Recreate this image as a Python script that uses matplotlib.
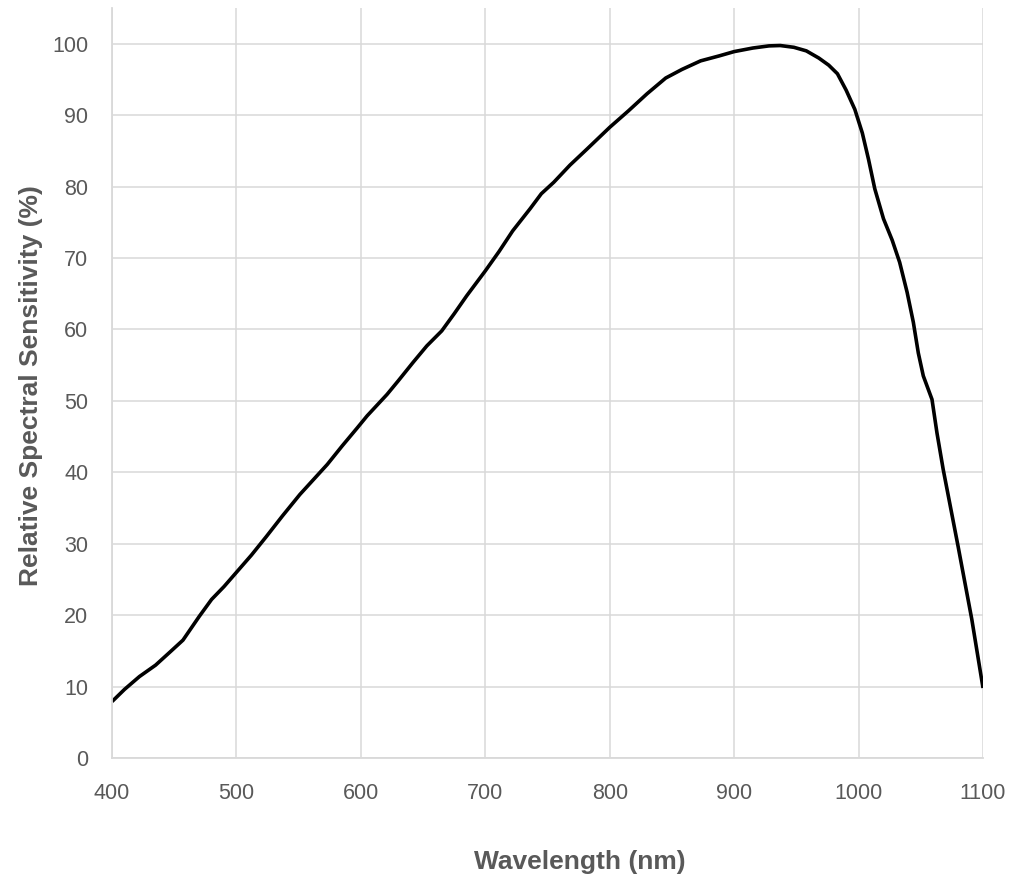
import numpy as np
import matplotlib
matplotlib.use('Agg')
from matplotlib import pyplot as plt

# wavelength (nm) and relative sensitivity (%)
wavelength = [400, 410, 422, 435, 447, 457, 470, 480, 490, 500, 512, 524, 537,
              551, 562, 573, 585, 597, 605, 613, 621, 630, 642, 653, 665, 675,
              685, 700, 711, 722, 736, 745, 755, 768, 782, 800, 815, 830, 845,
              858, 873, 888, 900, 915, 928, 937, 948, 958, 968, 976, 983, 990,
              997, 1003, 1008, 1013, 1020, 1027, 1033, 1039, 1044, 1048, 1052,
              1059, 1063, 1068, 1080, 1091, 1100]
sensitivity = [7.9, 9.6, 11.4, 13.0, 14.9, 16.5, 19.8, 22.2, 24.0, 26.0, 28.4,
               31.0, 33.9, 36.9, 39.0, 41.1, 43.7, 46.2, 47.9, 49.4, 50.9, 52.8,
               55.4, 57.7, 59.8, 62.2, 64.7, 68.2, 70.9, 73.8, 76.9, 79.0, 80.6,
               83.0, 85.3, 88.3, 90.6, 93.0, 95.2, 96.4, 97.6, 98.3, 98.9, 99.4,
               99.7, 99.75, 99.5, 99.0, 98.0, 97.0, 95.8, 93.5, 90.8, 87.5, 83.8,
               79.7, 75.5, 72.5, 69.4, 65.2, 61.0, 56.7, 53.5, 50.2, 45.5, 40.4,
               29.6, 19.4, 9.8]

xticks = [400, 500, 600, 700, 800, 900, 1000, 1100]
yticks = [0, 10, 20, 30, 40, 50, 60, 70, 80, 90, 100]

plt.rcParams['font.family'] = ['Liberation Sans', 'DejaVu Sans']
grey = '#595959'
gridc = '#d9d9d9'

fig = plt.figure(figsize=(10.13, 8.82), dpi=100)
ax = fig.add_axes([0.1106, 0.1406, 0.8598, 0.8503])

ax.plot(wavelength, sensitivity, color='black', lw=2.6,
        solid_joinstyle='round', solid_capstyle='butt')

ax.set_xlim(400, 1100)
ax.set_ylim(0, 105)
ax.set_xticks(xticks)
ax.set_yticks(yticks)
ax.grid(True, color=gridc, lw=1.1)
ax.set_axisbelow(True)
for s in ['top', 'right']:
    ax.spines[s].set_visible(False)
for s in ['left', 'bottom']:
    ax.spines[s].set_color(gridc)
    ax.spines[s].set_linewidth(1.3)
ax.tick_params(length=0, labelsize=15.5, labelcolor=grey)
ax.tick_params(axis='x', pad=18)
ax.tick_params(axis='y', pad=17)

ax.set_xlabel('Wavelength (nm)', fontsize=19, fontweight='bold', color=grey, va='center')
ax.set_ylabel('Relative Spectral Sensitivity (%)', fontsize=19, fontweight='bold', color=grey, va='center')
ax.xaxis.set_label_coords(0.537, -0.139)
ax.yaxis.set_label_coords(-0.093, 0.497)

fig.savefig('out.png', dpi=100)
